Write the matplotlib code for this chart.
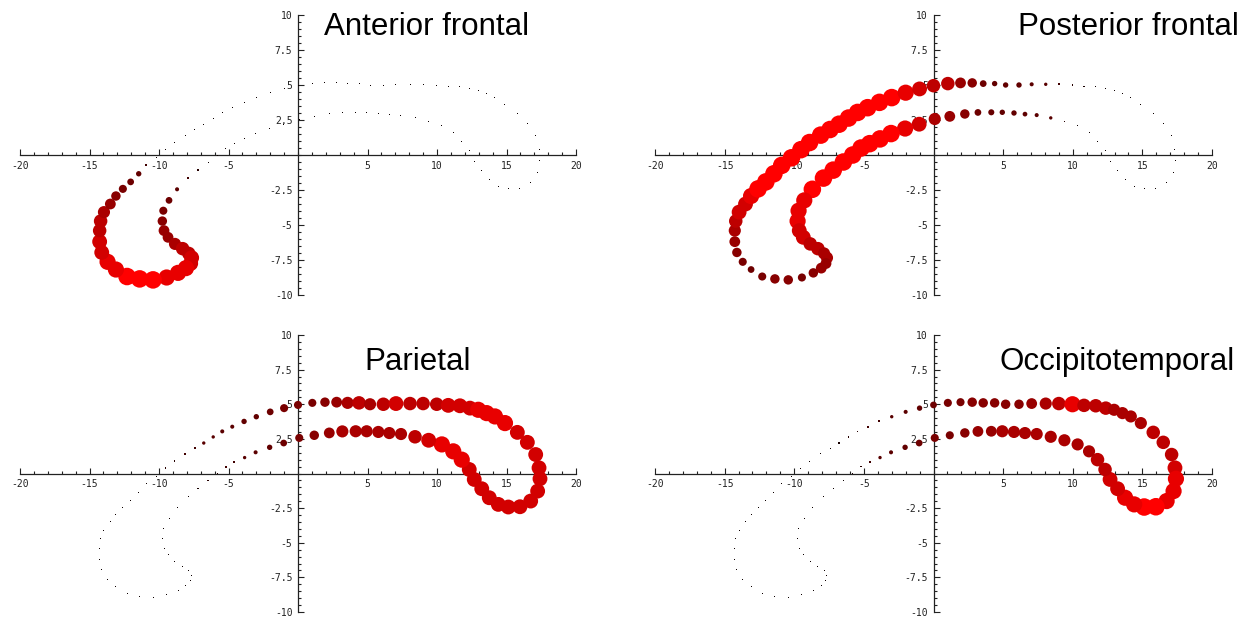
import matplotlib.pyplot as plt
from matplotlib.ticker import FixedLocator, MultipleLocator

# points around the closed "hook" loop, same in every panel
loop_x = [-10.2, -9.52, -8.9, -8.1, -7.43, -6.78, -6.1, -5.45, -4.73, -3.88,
          -3.0, -2.0, -1.0, 0.0, 1.03, 1.94, 2.78, 3.57, 4.39, 5.18,
          6.14, 7.05, 8.06, 9.0, 9.98, 10.81, 11.65, 12.37, 12.97, 13.57,
          14.17, 14.89, 15.78, 16.5, 17.1, 17.34, 17.41, 17.24, 16.74, 15.97,
          15.13, 14.41, 13.76, 13.22, 12.68, 12.32, 11.78, 11.17, 10.35, 9.4,
          8.42, 7.41, 6.57, 5.78, 4.94, 4.15, 3.19, 2.25, 1.17, 0.09,
          -1.03, -2.04, -3.05, -3.84, -4.58, -5.2, -5.8, -6.47, -7.2, -7.9,
          -8.7, -9.28, -9.69, -9.76, -9.64, -9.35, -8.85, -8.3, -7.86, -7.65,
          -7.72, -8.06, -8.63, -9.45, -10.43, -11.39, -12.3, -13.1, -13.7, -14.12,
          -14.27, -14.27, -14.2, -13.96, -13.5, -13.1, -12.6, -12.04, -11.46, -10.9]
loop_y = [-0.2, 0.38, 0.89, 1.42, 1.82, 2.2, 2.64, 3.04, 3.38, 3.76,
          4.1, 4.45, 4.72, 4.95, 5.1, 5.15, 5.15, 5.1, 5.1, 5.0,
          5.0, 5.05, 5.05, 5.05, 5.0, 4.92, 4.89, 4.72, 4.6, 4.36,
          4.12, 3.64, 2.97, 2.25, 1.37, 0.41, -0.38, -1.27, -1.99, -2.4,
          -2.42, -2.23, -1.75, -1.1, -0.43, 0.29, 1.0, 1.6, 2.1, 2.4,
          2.65, 2.85, 2.92, 3.0, 3.05, 3.05, 3.04, 2.93, 2.76, 2.57,
          2.2, 1.89, 1.53, 1.15, 0.81, 0.5, 0.0, -0.5, -1.08, -1.65,
          -2.45, -3.24, -3.98, -4.72, -5.4, -5.88, -6.35, -6.69, -7.03, -7.34,
          -7.75, -8.08, -8.42, -8.75, -8.92, -8.85, -8.68, -8.18, -7.63, -6.96,
          -6.19, -5.4, -4.72, -4.08, -3.5, -2.93, -2.42, -1.92, -1.34, -0.74]

# dot diameters (px)
size_anterior = [1] * 60 + [
    1, 1, 1, 1, 1, 1, 1, 1, 1.5, 2,
    3, 5, 6, 7, 8, 8, 9, 10, 10, 11,
    11, 12, 12, 12, 13, 13, 13, 12, 12, 11,
    11, 10, 10, 9, 8, 7, 6, 5, 4, 2]
size_posterior = [
    13, 13, 13, 13, 13, 13, 13, 13, 13, 13,
    13, 12, 11, 10, 10, 8, 7, 5, 4, 4,
    4, 3, 2.5, 2, 1.5, 1.2, 1, 1, 1, 1,
    1, 1, 1, 1, 1, 1, 1, 1, 1, 1,
    1, 1, 1, 1, 1, 1, 1, 1, 1, 1.5,
    2.5, 3, 3.5, 4, 4, 4.5, 5, 7, 8, 9,
    11, 12, 13, 13, 13, 13, 13, 13, 13, 13,
    13, 12, 12, 12, 11, 11, 10, 10, 9, 9,
    8, 8, 7, 6, 7, 7, 6, 5, 6, 7,
    8, 9, 10, 11, 11, 12, 13, 13, 13, 13]
size_parietal = [
    1, 1.5, 1.5, 2, 2, 2.5, 2.5, 3, 3, 4,
    4, 5, 6, 6, 6, 7, 8, 9, 10, 9,
    10, 11, 10, 10, 10, 11, 11, 11, 12, 12,
    12, 12, 11, 11, 11, 11, 11, 11, 11, 11,
    11, 11, 11, 11, 11, 11, 12, 12, 12, 11,
    10, 9, 9, 9, 9, 9, 9, 8, 7, 6,
    5, 4, 3, 2.5, 2, 2, 1.5, 1.5, 1.2, 1] + [1] * 30
size_occipito = [
    1, 1, 1, 1, 1, 1.2, 1.5, 1.5, 2, 2,
    2.5, 3, 4, 5, 6, 6, 7, 7, 7, 7,
    7, 8, 9, 10, 12, 10, 10, 10, 9, 9,
    9, 9, 10, 10, 10, 11, 12, 12, 12, 13,
    13, 12, 12, 11, 11, 10, 10, 9, 9, 9,
    9, 9, 9, 9, 9, 8, 8, 7, 6, 6,
    5, 4, 3, 2.5, 2, 1.5, 1.2, 1, 1, 1] + [1] * 30

titles = ["Anterior frontal", "Posterior frontal", "Parietal", "Occipitotemporal"]
panel_sizes = [size_anterior, size_posterior, size_parietal, size_occipito]

x_ticks = [-20, -15, -10, -5, 5, 10, 15, 20]
y_ticks = [-10, -7.5, -5, -2.5, 2.5, 5, 7.5, 10]
y_labels = ["-10", "-7.5", "-5", "-2.5", "2.5", "5", "7.5", "10"]

W, H, DPI = 1246, 620, 100
# axes boxes in pixels: (x of -20, x of 20, y of 10, y of -10)
boxes = [(20, 576, 15, 295), (655, 1212, 15, 295),
         (20, 576, 335, 612), (655, 1212, 335, 612)]
title_pos = [(427, 27), (1128, 27), (418, 362), (1117, 362)]


def dot_color(d):
    if d <= 2.5:
        r = 0.05 + 0.3 * (d - 1) / 1.5
    else:
        r = 0.35 + 0.65 * ((d - 2.5) / 10.5) ** 1.5
    return (min(r, 1.0), 0, 0)


def dot_area(d):
    # diameter in px -> marker area in pt^2 (big dots render a bit larger)
    scale = 1.0 if d <= 2 else 1.35
    return (d * scale * 72 / DPI) ** 2


fig = plt.figure(figsize=(W / DPI, H / DPI), dpi=DPI)
for (x0, x1, y0, y1), sizes, title, (tx, ty) in zip(boxes, panel_sizes, titles, title_pos):
    ax = fig.add_axes([x0 / W, 1 - y1 / H, (x1 - x0) / W, (y1 - y0) / H])
    ax.set_xlim(-20, 20)
    ax.set_ylim(-10, 10)
    for side in ["top", "right"]:
        ax.spines[side].set_visible(False)
    ax.spines["left"].set_position(("data", 0))
    ax.spines["bottom"].set_position(("data", 0))
    for side in ["left", "bottom"]:
        ax.spines[side].set_linewidth(0.9)
        ax.spines[side].set_color("#222222")
    ax.xaxis.set_major_locator(FixedLocator(x_ticks))
    ax.set_xticklabels([str(t) for t in x_ticks])
    ax.yaxis.set_major_locator(FixedLocator(y_ticks))
    ax.set_yticklabels(y_labels)
    ax.xaxis.set_minor_locator(MultipleLocator(1))
    ax.yaxis.set_minor_locator(MultipleLocator(0.5))
    ax.tick_params(which="both", direction="in", color="#222222", width=0.8)
    ax.tick_params(which="major", length=4, pad=4, labelsize=7, labelcolor="#222222")
    ax.tick_params(which="minor", length=2.2)
    for lab in ax.get_xticklabels() + ax.get_yticklabels():
        lab.set_family("DejaVu Sans Mono")
    ax.patch.set_alpha(0)

    small = [i for i, d in enumerate(sizes) if d <= 2]
    big = [i for i, d in enumerate(sizes) if d > 2]
    ax.scatter([loop_x[i] for i in small], [loop_y[i] for i in small],
               s=[dot_area(sizes[i]) for i in small], marker="s",
               c=[dot_color(sizes[i]) for i in small], linewidths=0, zorder=3,
               clip_on=False)
    ax.scatter([loop_x[i] for i in big], [loop_y[i] for i in big],
               s=[dot_area(sizes[i]) for i in big], marker="o",
               c=[dot_color(sizes[i]) for i in big], linewidths=0, zorder=3,
               clip_on=False)

    fig.text(tx / W, 1 - ty / H, title, ha="center", va="center",
             fontsize=22.5, family="Liberation Sans", color="black")

fig.savefig("out.png", dpi=DPI)
